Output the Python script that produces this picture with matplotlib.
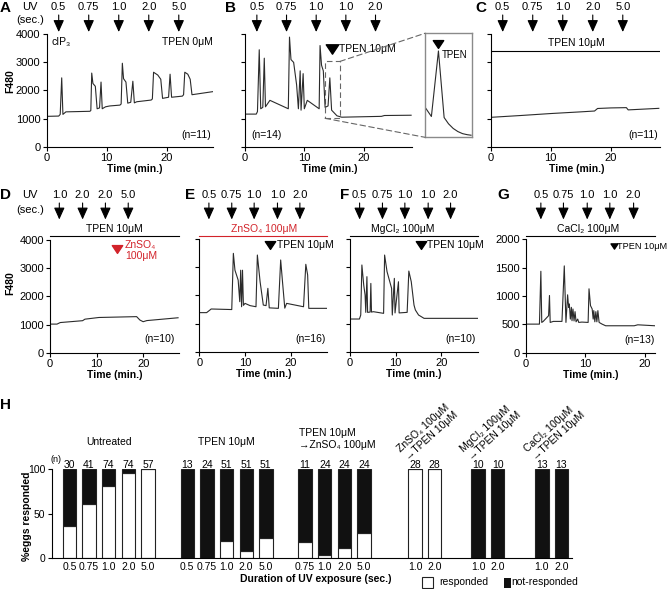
import numpy as np
import matplotlib
matplotlib.use('Agg')
import matplotlib.pyplot as plt
import matplotlib.transforms as mtransforms
from matplotlib.path import Path
from matplotlib.patches import Rectangle, ConnectionPatch

plt.rcParams['font.family'] = ['Liberation Sans', 'DejaVu Sans']
plt.rcParams['font.size'] = 7.5
plt.rcParams['axes.linewidth'] = 0.8

# ---------------- data ----------------
# Ca traces: (time [min], F480)
trace_A = [(0, 1080), (2.0, 1090), (2.25, 1150), (2.5, 2450), (2.7, 1150), (3.2, 1240), (7.2, 1260),
           (7.35, 1290), (7.5, 2620), (7.7, 2250), (8.1, 2150), (8.4, 1350), (8.8, 1380), (9.05, 2300),
           (9.25, 1350), (9.8, 1420), (10.5, 1450), (12.2, 1480), (12.4, 1520), (12.6, 2970), (12.8, 2420),
           (13.2, 2300), (13.5, 1550), (14.0, 1580), (14.35, 2330), (14.6, 1560), (15.0, 1600), (17.4, 1660),
           (17.6, 1700), (17.8, 2650), (18.5, 2550), (19.0, 2400), (19.3, 1720), (20.3, 1760), (20.55, 2580),
           (20.8, 1760), (22.6, 1800), (22.8, 1850), (23.0, 2650), (23.5, 2580), (23.9, 2400), (24.2, 1850),
           (27.7, 1960)]
trace_B = [(0, 1160), (1.9, 1160), (2.1, 1250), (2.4, 3450), (2.65, 1350), (3.0, 1400), (3.25, 3150),
           (3.45, 1420), (4.2, 1650), (7.3, 1350), (7.5, 3900), (7.75, 3100), (8.2, 3000), (8.7, 2200),
           (9.0, 1350), (9.3, 2700), (9.45, 1300), (9.8, 2600), (10.0, 1350), (10.5, 1650), (12.5, 1350),
           (12.65, 3600), (12.9, 2900), (13.2, 2700), (13.5, 1400), (14.0, 1450), (14.3, 2450), (14.6, 1300),
           (15.5, 1100), (16.3, 1050), (23.0, 1080), (23.5, 1110), (28.0, 1120)]
inset_B = [(0, 0.29), (0.136, 0.2), (0.286, 0.83), (0.407, 0.19), (0.5, 0.13), (0.6, 0.085),
           (0.7, 0.055), (0.8, 0.035), (0.9, 0.025), (0.98, 0.02)]
trace_C = [(0, 1045), (5, 1110), (10, 1180), (15, 1240), (17.3, 1270), (17.8, 1360), (20, 1380),
           (22.6, 1390), (22.9, 1310), (28.0, 1365)]
trace_D = [(0, 1015), (1.5, 1015), (2.2, 1070), (7.0, 1136), (7.5, 1190), (10.5, 1250), (18.6, 1280),
           (19.3, 1160), (20.0, 1100), (20.8, 1140), (27.5, 1240)]
trace_E = [(0, 1390), (1.6, 1390), (2.3, 1480), (2.6, 1520), (7.1, 1500), (7.45, 3500), (7.8, 2900),
           (8.5, 2550), (8.85, 1780), (9.05, 2900), (9.25, 1600), (9.45, 2900), (9.65, 1650), (10.0, 1720),
           (11.1, 1640), (12.4, 1600), (12.7, 3440), (13.3, 2490), (14.0, 1660), (14.6, 1640), (15.0, 2255),
           (15.3, 1560), (17.3, 1543), (17.8, 3264), (18.2, 2490), (18.7, 1550), (19.1, 1720), (22.8, 1600),
           (23.3, 3110), (23.7, 2730), (23.95, 1543), (28.0, 1543)]
trace_F = [(0, 1163), (2.06, 1163), (2.35, 1305), (2.6, 3086), (3.0, 2374), (3.3, 2018), (3.45, 1400),
           (3.7, 2670), (3.85, 1400), (4.4, 1410), (4.56, 2430), (4.7, 1410), (5.1, 1424), (7.35, 1365),
           (7.57, 3440), (8.1, 2850), (9.1, 2255), (9.25, 1305), (9.7, 2610), (9.85, 1380), (10.6, 2490),
           (10.75, 1380), (12.5, 1400), (12.87, 2870), (13.4, 2490), (14.0, 1660), (14.3, 1484), (15.0, 1305),
           (16.2, 1187), (28.0, 1187)]
trace_G = [(0, 504), (2.26, 504), (2.5, 1436), (2.65, 534), (2.9, 552), (3.8, 653), (3.95, 1009),
           (4.07, 534), (4.6, 552), (6.05, 552), (6.44, 1531), (6.72, 534), (7.0, 1021), (7.17, 800),
           (7.29, 860), (7.46, 593), (7.63, 800), (7.74, 564), (7.9, 771), (8.08, 560), (8.25, 724),
           (8.42, 545), (8.7, 593), (8.87, 534), (9.4, 540), (10.45, 534), (10.6, 1127), (10.85, 830),
           (11.13, 771), (11.3, 593), (11.4, 742), (11.58, 545), (11.75, 724), (11.92, 545), (12.09, 742),
           (12.3, 534), (12.8, 504), (13.4, 475), (18.2, 475), (18.8, 492), (21.7, 475)]

uv_times_row1 = [2, 7, 12, 17, 22]
uv_A = ['0.5', '0.75', '1.0', '2.0', '5.0']
uv_B = ['0.5', '0.75', '1.0', '1.0', '2.0']
uv_C = ['0.5', '0.75', '1.0', '2.0', '5.0']
uv_times_D = [2, 7, 11.9, 16.8]
uv_D = ['1.0', '2.0', '2.0', '5.0']
uv_times_E = [2.1, 7.1, 12.0, 17.1, 22.0]
uv_E = ['0.5', '0.75', '1.0', '1.0', '2.0']
uv_times_G = [2.5, 6.3, 10.3, 14.1, 18.1]
uv_G = ['0.5', '0.75', '1.0', '1.0', '2.0']

# panel H: % responded, n, UV duration labels
groups = ['Untreated', 'TPEN 10μM', 'TPEN 10μM\n→ZnSO₄ 100μM',
          'ZnSO₄ 100μM\n→TPEN 10μM', 'MgCl₂ 100μM\n→TPEN 10μM', 'CaCl₂ 100μM\n→TPEN 10μM']
resp = [[36, 61, 81, 96, 100], [0, 0, 19, 8, 23], [18, 4, 12, 28], [100, 100], [0, 0], [0, 0]]
n_eggs = [[30, 41, 74, 74, 57], [13, 24, 51, 51, 51], [11, 24, 24, 24], [28, 28], [10, 10], [13, 13]]
durations = [['0.5', '0.75', '1.0', '2.0', '5.0'], ['0.5', '0.75', '1.0', '2.0', '5.0'],
             ['0.75', '1.0', '2.0', '5.0'], ['1.0', '2.0'], ['1.0', '2.0'], ['1.0', '2.0']]

# ---------------- layout ----------------
W, H = 669, 589
RED = '#d2232a'
LINE = '#2b2b2b'
fig = plt.figure(figsize=(W / 100, H / 100), dpi=100)

ov = fig.add_axes([0, 0, 1, 1])
ov.set_xlim(0, W)
ov.set_ylim(H, 0)
ov.axis('off')


def box(x0, y0, x1, y1):
    return [x0 / W, 1 - y1 / H, (x1 - x0) / W, (y1 - y0) / H]


tri = Path([(-1, 0.75), (1, 0.75), (0, -0.75), (-1, 0.75)],
           [Path.MOVETO, Path.LINETO, Path.LINETO, Path.CLOSEPOLY])


def trace_panel(rect, trace, xmax, ymax, yticks, show_ylab):
    ax = fig.add_axes(box(*rect))
    ax.patch.set_visible(False)
    t, v = np.array(trace).T
    ax.plot(t, v, color=LINE, lw=0.8)
    ax.set_xlim(0, xmax)
    ax.set_ylim(0, ymax)
    ax.spines[['top', 'right']].set_visible(False)
    ax.set_xticks([0, 10, 20])
    ax.set_yticks(yticks)
    if not show_ylab:
        ax.set_yticklabels([])
    ax.tick_params(direction='out', length=3, width=0.8, pad=1.5, labelsize=8)
    ax.set_xlabel('Time (min.)', fontweight='bold', fontsize=7.5)
    return ax


def uv_arrows(ax, times, labels, y_lab, y_tail, y_tip):
    tr = mtransforms.blended_transform_factory(ax.transData, ov.transData)
    for t, lab in zip(times, labels):
        ax.annotate('', xy=(t, y_tip), xytext=(t, y_tail), xycoords=tr, textcoords=tr,
                    annotation_clip=False,
                    arrowprops=dict(arrowstyle='-|>,head_length=0.6,head_width=0.27',
                                    mutation_scale=12, color='k', lw=0.8, shrinkA=0, shrinkB=0))
        ax.text(t, y_lab, lab, transform=tr, ha='center', va='center', fontsize=8)
    return tr


def cond_line(ax, tr, xmax, y, label, tx, color='k'):
    ax.plot([0, xmax], [y, y], transform=tr, color=color, lw=0.8, clip_on=False)
    ax.text(tx, y - 6.5, label, transform=tr, ha='center', va='center', color=color, fontsize=7.5)


# ----- row 1 -----
row1 = (34.3, 146.7)
axA = trace_panel((46.7, row1[0], 213, row1[1]), trace_A, 27.7, 4000, [0, 1000, 2000, 3000, 4000], True)
axA.set_ylabel('F480', fontweight='bold', fontsize=7.5)
axA.yaxis.set_label_coords(-0.19, 0.58)
axA.xaxis.set_label_coords(0.53, -0.15)
uv_arrows(axA, uv_times_row1, uv_A, 7, 15, 32)
axA.text(0.03, 0.935, 'cIP₃', transform=axA.transAxes, ha='left', va='center')
axA.text(1.0, 0.935, 'TPEN 0μM', transform=axA.transAxes, ha='right', va='center')
axA.text(0.99, 0.105, '(n=11)', transform=axA.transAxes, ha='right', va='center')

axB = trace_panel((245, row1[0], 411.7, row1[1]), trace_B, 28.1, 4000, [0, 1000, 2000, 3000, 4000], False)
axB.xaxis.set_label_coords(0.51, -0.15)
uv_arrows(axB, uv_times_row1, uv_B, 7, 15, 32)
axB.plot([14.7], [3480], marker=tri, ms=9, color='k', ls='none', clip_on=False)
axB.text(15.9, 3480, 'TPEN 10μM', ha='left', va='center')
axB.text(0.04, 0.1, '(n=14)', transform=axB.transAxes, ha='left', va='center')
axB.add_patch(Rectangle((13.5, 1010), 2.5, 2025, fill=False, ec='#666666', lw=0.8, ls=(0, (5, 3))))

axIn = fig.add_axes(box(425, 33.3, 472, 137.3))
axIn.set_xticks([])
axIn.set_yticks([])
for s in axIn.spines.values():
    s.set_color('#8a8a8a')
    s.set_linewidth(1)
ti, vi = np.array(inset_B).T
axIn.plot(ti, vi, color=LINE, lw=0.8)
axIn.set_xlim(0, 1)
axIn.set_ylim(0, 1)
axIn.plot([0.286], [0.895], marker=tri, ms=7.5, color='k', ls='none')
axIn.text(0.36, 0.79, 'TPEN', ha='left', va='center', fontsize=7)
for xyA, xyB in [((16, 3035), (0, 1)), ((13.5, 1010), (0, 0))]:
    cp = ConnectionPatch(xyA=xyA, coordsA=axB.transData, xyB=xyB, coordsB=axIn.transAxes,
                         color='#666666', lw=0.8, ls=(0, (5, 3)))
    fig.add_artist(cp)

axC = trace_panel((490.7, row1[0], 660, row1[1]), trace_C, 28.2, 4000, [0, 1000, 2000, 3000, 4000], False)
axC.xaxis.set_label_coords(0.51, -0.15)
uv_arrows(axC, uv_times_row1, uv_C, 7, 15, 32)
axC.plot([0, 28.2], [3410, 3410], color='k', lw=0.8)
axC.text(14.3, 3700, 'TPEN 10μM', ha='center', va='center')
axC.text(0.99, 0.1, '(n=11)', transform=axC.transAxes, ha='right', va='center')

# ----- row 2 -----
axD = trace_panel((50, 240, 179, 352.7), trace_D, 27.7, 4000, [0, 1000, 2000, 3000, 4000], True)
axD.set_ylabel('F480', fontweight='bold', fontsize=7.5)
axD.yaxis.set_label_coords(-0.27, 0.62)
axD.xaxis.set_label_coords(0.5, -0.155)
trD = uv_arrows(axD, uv_times_D, uv_D, 195, 203, 219.5)
cond_line(axD, trD, 27.7, 235.5, 'TPEN 10μM', 13.9)
axD.plot([14.4], [3680], marker=tri, ms=7.5, color=RED, ls='none')
axD.text(16.1, 3640, 'ZnSO₄\n100μM', ha='left', va='center', color=RED, linespacing=1.15)
axD.text(0.97, 0.12, '(n=10)', transform=axD.transAxes, ha='right', va='center')

axE = trace_panel((199.3, 239.3, 327.3, 351.7), trace_E, 28, 4000, [0, 1000, 2000, 3000, 4000], False)
axE.xaxis.set_label_coords(0.5, -0.155)
trE = uv_arrows(axE, uv_times_E, uv_E, 195, 203, 219.5)
cond_line(axE, trE, 28, 235.5, 'ZnSO₄ 100μM', 14.2, color=RED)
axE.plot([15.5], [3800], marker=tri, ms=7.5, color='k', ls='none', clip_on=False)
axE.text(17.1, 3800, 'TPEN 10μM', ha='left', va='center')
axE.text(0.99, 0.11, '(n=16)', transform=axE.transAxes, ha='right', va='center')

axF = trace_panel((350, 239.3, 478, 351.7), trace_F, 28, 4000, [0, 1000, 2000, 3000, 4000], False)
axF.xaxis.set_label_coords(0.5, -0.155)
trF = uv_arrows(axF, uv_times_E, uv_E, 195, 203, 219.5)
cond_line(axF, trF, 28, 235.5, 'MgCl₂ 100μM', 11.6)
axF.plot([15.5], [3800], marker=tri, ms=7.5, color='k', ls='none', clip_on=False)
axF.text(16.9, 3800, 'TPEN 10μM', ha='left', va='center')
axF.text(0.98, 0.11, '(n=10)', transform=axF.transAxes, ha='right', va='center')

axG = trace_panel((526, 239.3, 655, 352.7), trace_G, 21.7, 2000, [0, 500, 1000, 1500, 2000], True)
axG.xaxis.set_label_coords(0.5, -0.155)
trG = uv_arrows(axG, uv_times_G, uv_G, 195, 203, 219.5)
cond_line(axG, trG, 21.7, 235.5, 'CaCl₂ 100μM', 10.5)
axG.plot([14.8], [1880], marker=tri, ms=5, color='k', ls='none', clip_on=False)
axG.text(15.3, 1880, 'TPEN 10μM', ha='left', va='center', fontsize=6.6)
axG.text(1.0, 0.11, '(n=13)', transform=axG.transAxes, ha='right', va='center')

# ----- panel H -----
axH = fig.add_axes(box(51.7, 469.3, 571.7, 558.3))
axH.patch.set_visible(False)
group_starts = [0, 6, 12, 17.6, 20.8, 24.05]
ticks, ticklabels = [], []
for gi, (start, r, n, d) in enumerate(zip(group_starts, resp, n_eggs, durations)):
    pos = start + np.arange(len(r))
    r = np.array(r, dtype=float)
    axH.bar(pos, r, width=0.68, color='white', edgecolor='#222222', lw=0.8)
    axH.bar(pos, 100 - r, bottom=r, width=0.68, color='#111111', edgecolor='#222222', lw=0.8)
    for p, k in zip(pos, n):
        axH.text(p, 101.5, str(k), ha='center', va='baseline', fontsize=7.5, clip_on=False)
    ticks += list(pos)
    ticklabels += d
    if gi < 2:
        axH.text(pos.mean(), 131, groups[gi], ha='center', va='center', fontsize=7.5)
    elif gi == 2:
        axH.text(start - 0.31, 134, groups[gi], ha='left', va='center', fontsize=7.5, linespacing=1.2)
    else:
        axH.text(start - 0.25, 108, groups[gi], ha='left', va='bottom', rotation=42,
                 rotation_mode='anchor', fontsize=7.5, linespacing=1.2)
axH.set_xlim(-0.9, 25.57)
axH.set_ylim(0, 100)
axH.set_xticks(ticks)
axH.set_xticklabels(ticklabels)
axH.set_yticks([0, 50, 100])
axH.spines[['top', 'right']].set_visible(False)
axH.tick_params(axis='x', length=0, pad=3, labelsize=7.5)
axH.tick_params(axis='y', direction='out', length=3, width=0.8, pad=1.5, labelsize=7.5)
axH.set_ylabel('%eggs responded', fontweight='bold', fontsize=7.5)
axH.yaxis.set_label_coords(-0.038, 0.47)

ov.text(56, 460, '(n)', ha='center', va='center', fontsize=6.5)
ov.text(316, 579.5, 'Duration of UV exposure (sec.)', ha='center', va='center', fontweight='bold', fontsize=7.5)
ov.add_patch(Rectangle((421.7, 576.7), 11.5, 11.3, fc='white', ec='#222222', lw=0.8))
ov.text(439, 582.3, 'responded', ha='left', va='center', fontsize=7.5)
ov.add_patch(Rectangle((504, 577.5), 6.5, 10, fc='#111111', ec='none'))
ov.text(511.7, 582.3, 'not-responded', ha='left', va='center', fontsize=7.5)

# UV labels & panel letters
for y_uv, y_sec in [(7, 20), (195, 210)]:
    ov.text(30, y_uv, 'UV', ha='center', va='center', fontsize=8)
    ov.text(30, y_sec, '(sec.)', ha='center', va='center', fontsize=8)
for lab, x, y in [('A', 0, 8), ('B', 225, 8), ('C', 475, 8), ('D', 0, 195), ('E', 185, 195),
                  ('F', 340, 195), ('G', 497, 195), ('H', 0, 405)]:
    ov.text(x, y, lab, ha='left', va='center', fontweight='bold', fontsize=11)

fig.savefig('out.png', dpi=100)
